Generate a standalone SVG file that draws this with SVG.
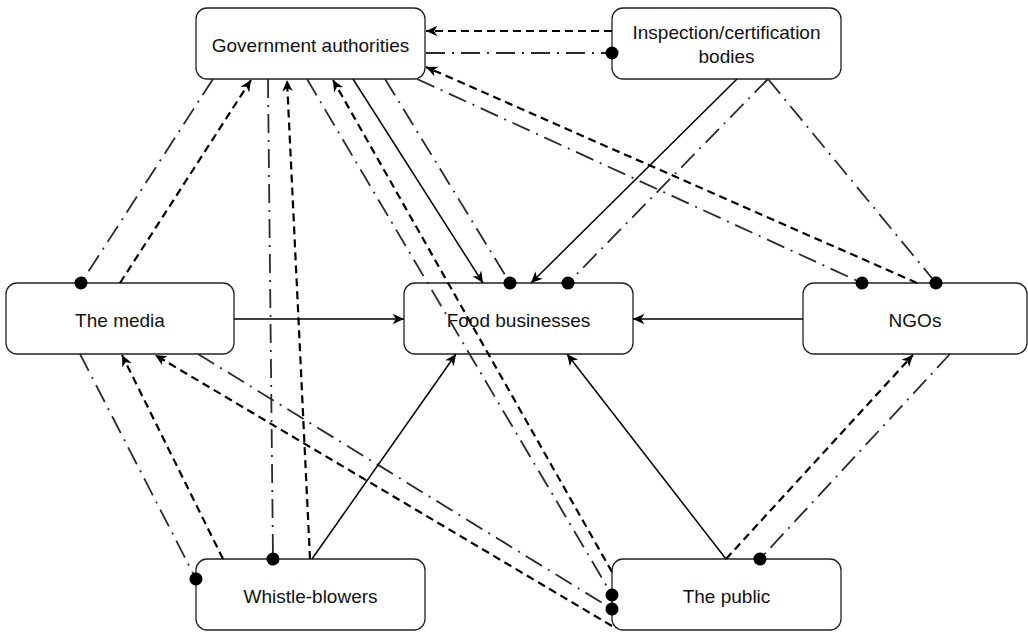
<svg xmlns="http://www.w3.org/2000/svg" width="1028" height="632" viewBox="0 0 1028 632">
<style>
.node rect{fill:#fff;stroke:#222;stroke-width:1.3}
.node text{font-family:"Liberation Sans",Arial,sans-serif;font-size:19px;fill:#111;text-anchor:middle}
.solid{stroke:#000;stroke-width:1.5;fill:none;marker-end:url(#arrow)}
.dashed{stroke:#000;stroke-width:2.2;fill:none;stroke-dasharray:8 5;marker-end:url(#arrow)}
.dashdot{stroke:#2a2a2a;stroke-width:1.8;fill:none;stroke-dasharray:19 7 2 7;marker-end:url(#dot)}
</style>
<defs>
<marker id="arrow" markerUnits="userSpaceOnUse" markerWidth="13" markerHeight="13" viewBox="0 0 12 12" refX="11" refY="6" orient="auto">
<path d="M0.5,1.2 L11,6 L0.5,10.8 L3.5,6 Z" fill="#000"/>
</marker>
<marker id="dot" markerUnits="userSpaceOnUse" markerWidth="14" markerHeight="14" viewBox="0 0 14 14" refX="7" refY="7" orient="auto">
<circle cx="7" cy="7" r="6.5" fill="#000"/>
</marker>
</defs>
<g id="node-gov" class="node"><rect x="196" y="8" width="229" height="71" rx="11"/><text x="310.5" y="52">Government authorities</text></g>
<g id="node-insp" class="node"><rect x="612" y="8" width="229" height="71" rx="11"/><text x="726.5" y="39">Inspection/certification</text><text x="726.5" y="63">bodies</text></g>
<g id="node-media" class="node"><rect x="6" y="283" width="228" height="71" rx="11"/><text x="120" y="327">The media</text></g>
<g id="node-food" class="node"><rect x="404" y="283" width="229" height="71" rx="11"/><text x="518.5" y="327">Food businesses</text></g>
<g id="node-ngos" class="node"><rect x="803" y="283" width="224" height="71" rx="11"/><text x="915" y="327">NGOs</text></g>
<g id="node-wb" class="node"><rect x="196" y="559" width="229" height="71" rx="11"/><text x="310.5" y="603">Whistle-blowers</text></g>
<g id="node-public" class="node"><rect x="612" y="559" width="229" height="71" rx="11"/><text x="726.5" y="603">The public</text></g>
<g id="connectors">
<line class="dashed" x1="612" y1="31" x2="426" y2="31"/>
<line class="dashdot" x1="426" y1="53" x2="612" y2="53"/>
<line class="dashed" x1="917" y1="283" x2="426" y2="67"/>
<line class="dashdot" x1="417" y1="79" x2="862" y2="283"/>
<line class="dashdot" x1="768" y1="79" x2="936" y2="283"/>
<line class="dashdot" x1="768" y1="79" x2="568" y2="283"/>
<line class="solid" x1="737" y1="79" x2="531" y2="283"/>
<line class="solid" x1="353" y1="79" x2="483" y2="283"/>
<line class="dashdot" x1="385" y1="79" x2="510" y2="283"/>
<line class="dashdot" x1="213" y1="79" x2="81" y2="283"/>
<line class="dashed" x1="120" y1="283" x2="251" y2="80"/>
<line class="dashdot" x1="268" y1="79" x2="273" y2="559"/>
<line class="dashed" x1="310" y1="559" x2="287" y2="80"/>
<line class="dashdot" x1="307" y1="79" x2="612" y2="595"/>
<line class="dashed" x1="612" y1="572" x2="333" y2="80"/>
<line class="dashdot" x1="80" y1="354" x2="196" y2="579"/>
<line class="dashed" x1="223" y1="559" x2="122" y2="355"/>
<line class="dashed" x1="612" y1="626" x2="155" y2="355"/>
<line class="dashdot" x1="198" y1="354" x2="612" y2="609"/>
<line class="solid" x1="234" y1="319" x2="404" y2="319"/>
<line class="solid" x1="803" y1="319" x2="633" y2="319"/>
<line class="solid" x1="312" y1="559" x2="456" y2="354"/>
<line class="solid" x1="726" y1="559" x2="567" y2="354"/>
<line class="dashed" x1="726" y1="559" x2="913" y2="355"/>
<line class="dashdot" x1="950" y1="354" x2="760" y2="559"/>
</g>
</svg>
